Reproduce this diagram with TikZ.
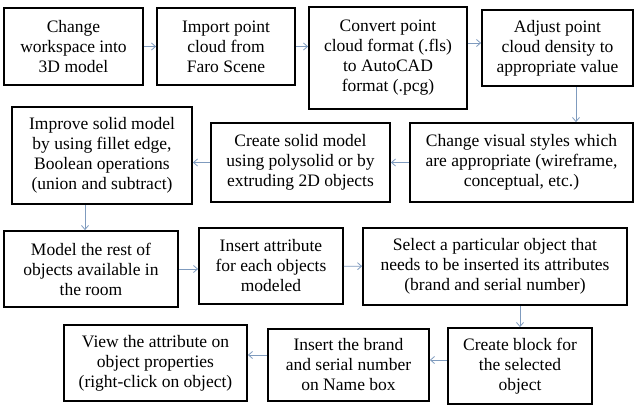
\documentclass[tikz,border=0pt]{standalone}
\usepackage{fontspec}
\setmainfont{Liberation Serif}
\usepackage{tikz}
\usetikzlibrary{positioning,arrows.meta,calc}
\definecolor{flecha}{RGB}{127,155,190}

\begin{document}
\begin{tikzpicture}[
    x=1pt, y=-1pt,
    font=\fontsize{17.5}{20}\selectfont,
    task/.style={rectangle, draw=black, line width=1.8pt, fill=white,
      align=center, inner sep=2pt},
    link/.style={->, draw=flecha, line width=0.8pt},
    >={Straight Barb[length=4pt,width=7pt]}
  ]
    \useasboundingbox (0,0) rectangle (638,406);

    % first row
    \node[task, minimum width=139, minimum height=77] (workspace) at (73.5,46.5) {Change\\workspace into\\3D model};
    \node[task, minimum width=138, minimum height=77] (import) at (226,46.5) {Import point\\cloud from\\Faro Scene};
    \node[task, minimum width=158, minimum height=102] (convert) at (388,58) {Convert point\\cloud format (.fls)\\to AutoCAD\\format (.pcg)};
    \node[task, minimum width=151, minimum height=76] (density) at (557.5,48) {Adjust point\\cloud density to\\appropriate value};

    % second row
    \node[task, minimum width=180, minimum height=97] (improve) at (102,155.5) {Improve solid model\\by using fillet edge,\\Boolean operations\\(union and subtract)};
    \node[task, minimum width=179, minimum height=79] (solid) at (300.5,162.5) {Create solid model\\using polysolid or by\\extruding 2D objects};
    \node[task, minimum width=223, minimum height=79] (visual) at (521.5,162.5) {Change visual styles which\\are appropriate (wireframe,\\conceptual, etc.)};

    % third row
    \node[task, minimum width=174, minimum height=76] (rest) at (91,269) {Model the rest of\\objects available in\\the room};
    \node[task, minimum width=144, minimum height=76] (attrib) at (271,266) {Insert attribute\\for each objects\\modeled};
    \node[task, minimum width=264, minimum height=77] (select) at (495,266.5) {Select a particular object that\\needs to be inserted its attributes\\(brand and serial number)};

    % fourth row
    \node[task, minimum width=183, minimum height=76] (view) at (155.5,363) {View the attribute on\\object properties\\(right-click on object)};
    \node[task, minimum width=161, minimum height=72] (brand) at (348.5,365) {Insert the brand\\and serial number\\on Name box};
    \node[task, minimum width=144, minimum height=76] (block) at (520,366) {Create block for\\the selected\\object};

    \draw[link] (workspace) -- (import);
    \draw[link] (import.east) -- (import.east -| convert.west);
    \draw[link] ([yshift=5pt]density.west -| convert.east) -- ([yshift=5pt]density.west);
    \draw[link] ([xshift=18.5pt]density.south) -- ([xshift=18.5pt]density.south |- visual.north);
    \draw[link] (visual.west) -- (solid.east);
    \draw[link] (solid.west) -- (solid.west -| improve.east);
    \draw[link] ([xshift=-17pt]improve.south) -- ([xshift=-17pt]improve.south |- rest.north);
    \draw[link] (rest.east) -- (rest.east -| attrib.west);
    \draw[link] (attrib) -- (select);
    \draw[link] (select.south -| block.north) -- (block.north);
    \draw[link] ([yshift=6pt]block.west) -- ([yshift=6pt]block.west -| brand.east);
    \draw[link] ([yshift=10pt]brand.west) -- ([yshift=10pt]brand.west -| view.east);
  \end{tikzpicture}
\end{document}
